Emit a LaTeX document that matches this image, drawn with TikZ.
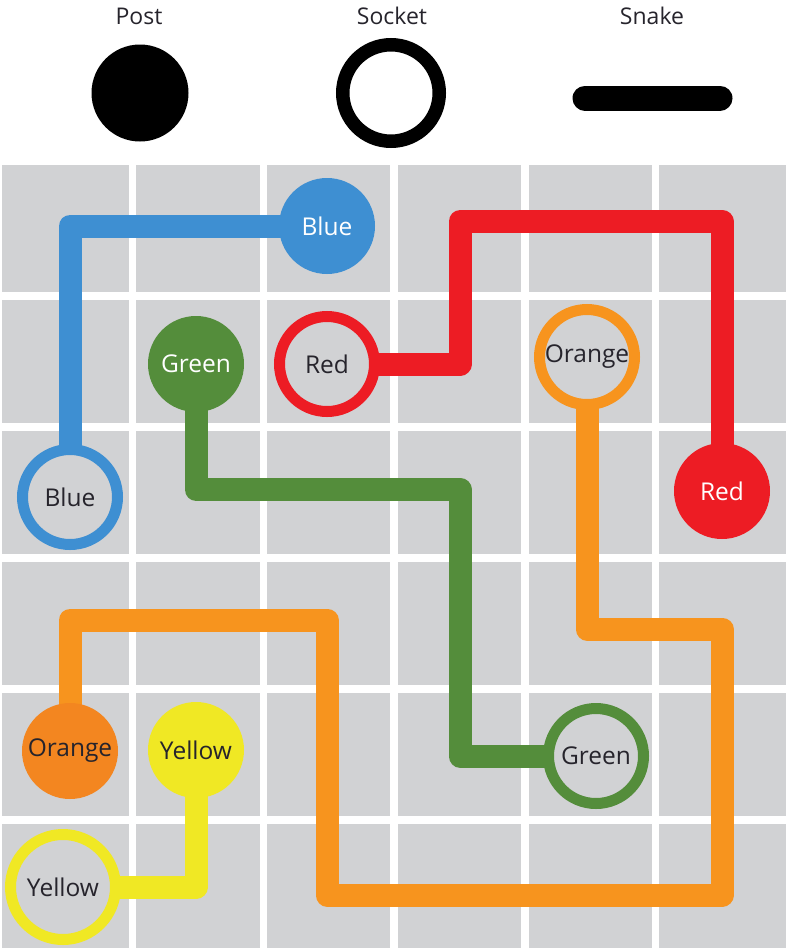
\documentclass[tikz,border=0pt]{standalone}
\usepackage{fontspec}
\setmainfont{Open Sans}
\usepackage{tikz}
\usetikzlibrary{backgrounds}
\definecolor{cellgray}{RGB}{209,210,212}
\definecolor{txtdark}{RGB}{38,36,44}
\definecolor{snblue}{RGB}{62,143,210}
\definecolor{snred}{RGB}{237,28,36}
\definecolor{sngreen}{RGB}{84,141,59}
\definecolor{snorange}{RGB}{247,148,30}
\definecolor{postorange}{RGB}{243,134,32}
\definecolor{snyellow}{RGB}{240,232,36}

\begin{document}
\begin{tikzpicture}[x=1pt,y=-1pt,
  lbl/.style={font=\fontsize{23}{26}\selectfont},
  cell lbl/.style={font=\fontsize{24.5}{27}\selectfont},
  post/.style={circle,fill=#1,minimum size=96pt,inner sep=0pt,cell lbl},
  socket/.style={circle,draw=#1,line width=11pt,fill=cellgray,minimum size=95pt,inner sep=0pt,cell lbl,text=txtdark},
  snake/.style={#1,line width=23pt,line join=round}]
  \useasboundingbox (0,0) rectangle (786,948);
  % legend
  \node[lbl,anchor=base,text=txtdark] (posttxt) at (139,24) {Post};
  \node[lbl,anchor=base,text=txtdark] (socktxt) at (392,24) {Socket};
  \node[lbl,anchor=base,text=txtdark] (snaketxt) at (652,24) {Snake};
  \node[circle,fill=black,minimum size=97pt,inner sep=0pt] (legpost) at (140,93) {};
  \node[circle,draw=black,line width=13.5pt,minimum size=96.5pt,inner sep=0pt] (legsock) at (391,93) {};
  \coordinate (snakeL) at (585,98);
  \coordinate (snakeR) at (720,98);
  \draw[line width=25pt,line cap=round] (snakeL) -- (snakeR);
  % posts and sockets
  \node[post=snblue,text=white] (bluepost) at (327,226) {Blue};
  \node[socket=snblue] (bluesock) at (70,497) {Blue};
  \node[post=snred,text=white] (redpost) at (722,491) {Red};
  \node[socket=snred] (redsock) at (327,364) {Red};
  \node[post=sngreen,text=white] (greenpost) at (196,364) {Green};
  \node[socket=sngreen] (greensock) at (596,756) {Green};
  \node[post=postorange,text=txtdark] (orangepost) at (70,751) {Orange};
  \node[socket=snorange] (orangesock) at (587,357) {Orange};
  \node[post=snyellow,text=txtdark] (yellowpost) at (196,750) {Yellow};
  \node[socket=snyellow,minimum size=105pt] (yellowsock) at (63,887) {Yellow};
  \begin{scope}[on background layer]
    % board
    \fill[cellgray] (2,165) rectangle (786,948);
    \foreach \k in {1,...,5} {
      \draw[white,line width=7.5pt] ({2+130.7*\k},165) -- ({2+130.7*\k},948);
      \draw[white,line width=7.5pt] (2,{165+131*\k}) -- (786,{165+131*\k});
    }
    % snakes
    \draw[snake=snblue] (bluepost.center) -| (bluesock.center);
    \draw[snake=snred] (redsock.center) -| (460,221.5) -| (redpost.center);
    \draw[snake=sngreen] (greenpost.center) |- (460,489.5) |- (greensock.center);
    \draw[snake=snorange] (orangesock.center) |- (722,629) |- (327,895) |- (70,620) -- (orangepost.center);
    \draw[snake=snyellow] (yellowpost.center) |- (yellowsock.center);
  \end{scope}
\end{tikzpicture}
\end{document}
